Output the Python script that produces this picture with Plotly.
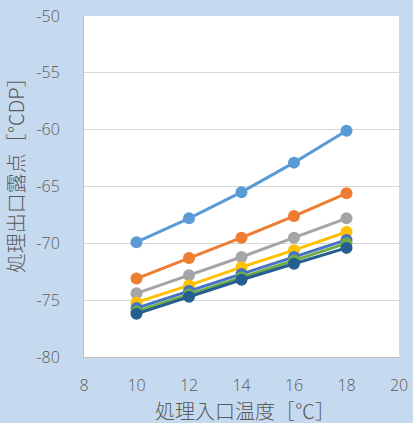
import plotly.graph_objects as go

x_vals = [10, 12, 14, 16, 18]
s1 = [-69.9, -67.8, -65.5, -62.9, -60.1]
s2 = [-73.1, -71.3, -69.5, -67.6, -65.6]
s3 = [-74.4, -72.8, -71.2, -69.5, -67.8]
s4 = [-75.2, -73.7, -72.1, -70.6, -69.0]
s5 = [-75.7, -74.2, -72.7, -71.2, -69.7]
s6 = [-76.0, -74.5, -73.0, -71.5, -70.0]
s7 = [-76.2, -74.7, -73.2, -71.8, -70.4]
series = [s1, s2, s3, s4, s5, s6, s7]
colors = ["#5B9BD5", "#ED7D31", "#A5A5A5", "#FFC000", "#4472C4", "#70AD47", "#255E91"]

x_ticks = [8, 10, 12, 14, 16, 18, 20]
x_labels = ["8", "10", "12", "14", "16", "18", "20"]
y_ticks = [-80, -75, -70, -65, -60, -55, -50]
y_labels = ["-80", "-75", "-70", "-65", "-60", "-55", "-50"]

fig = go.Figure()
for s, c in zip(series, colors):
    fig.add_trace(go.Scatter(x=x_vals, y=s, mode="lines+markers",
                             line=dict(color=c, width=3),
                             marker=dict(color=c, size=12),
                             showlegend=False))

tick_font = dict(family="Open Sans, Noto Sans, sans-serif", color="#595959", size=16, weight=300)
title_font = dict(family="Noto Sans CJK JP, sans-serif", color="#595959", size=20, weight=300)
fig.update_layout(
    width=413, height=423,
    margin=dict(l=84, r=14, t=16, b=66, autoexpand=False),
    paper_bgcolor="#C6DAEF",
    plot_bgcolor="#FFFFFF",
    font=dict(family="Open Sans, sans-serif", color="#595959", size=16),
    xaxis=dict(range=[8, 20], tickvals=x_ticks, ticktext=x_labels, showgrid=False, zeroline=False,
               showline=True, linecolor="#BFBFBF", linewidth=1, automargin=False,
               ticks="", ticklabelstandoff=14, tickfont=tick_font),
    yaxis=dict(range=[-80, -50], tickvals=y_ticks, ticktext=y_labels, showgrid=True, gridcolor="#D9D9D9",
               zeroline=False, showline=True, linecolor="#BFBFBF", linewidth=1, automargin=False,
               ticks="", ticklabelstandoff=20, tickfont=tick_font),
    annotations=[
        dict(text="処理入口温度［℃］", xref="paper", yref="paper", x=0.512, y=-0.157,
             xanchor="center", yanchor="middle", showarrow=False, font=title_font),
        dict(text="処理出口露点［℃DP］", xref="paper", yref="paper", x=-0.219, y=0.548,
             xanchor="center", yanchor="middle", showarrow=False, textangle=-90, font=title_font),
    ],
)

fig.write_html("out.html", config={"displayModeBar": False},
               post_script="document.body.style.margin='0';document.body.style.padding='0';")
